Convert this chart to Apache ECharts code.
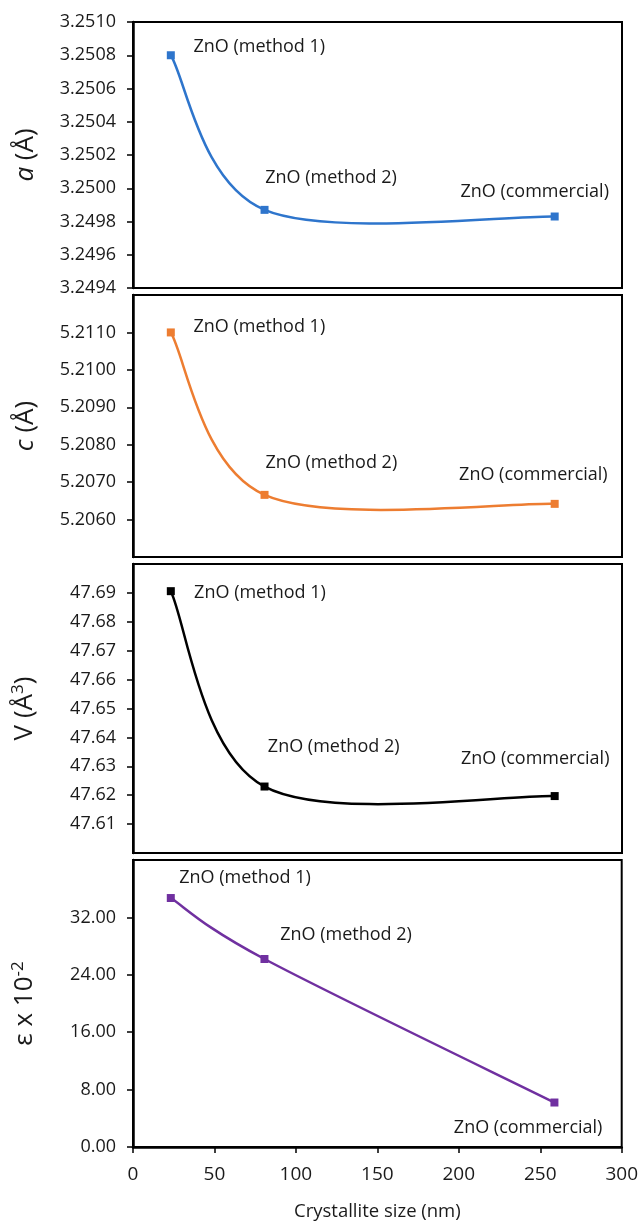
<!DOCTYPE html>
<html>
<head>
<meta charset="utf-8">
<script src="https://cdn.jsdelivr.net/npm/echarts@6/dist/echarts.min.js"></script>
<style>
  html, body { margin: 0; padding: 0; background: #fff; }
  #chart { width: 641px; height: 1222px; }
</style>
</head>
<body>
<div id="chart"></div>
<script>
// ---- data ----
const crystalliteSize = [23.2, 80.7, 258.7];
const sampleNames = ['ZnO (method 1)', 'ZnO (method 2)', 'ZnO (commercial)'];
const latticeA = [3.2508, 3.24987, 3.24983];
const latticeC = [5.2110, 5.20666, 5.20642];
const cellVolume = [47.6906, 47.6230, 47.6197];
const strain = [34.7, 26.2, 6.2];
const xTicks = [0, 300, 50];

// ---- layout / style ----
const FONT = 'Open Sans';
const TEXT = '#1a1a1a';
const panels = [
  { values: latticeA, color: '#2E75CC', top: 22, height: 266, min: 3.2494, max: 3.2510, interval: 0.0002, digits: 4,
    name: '{i|a} (Å)', showMin: true, showMax: true,
    labels: [[22.6, -8.3, 'left'], [0.7, -31.7, 'left'], [-20, -25, 'center']] },
  { values: latticeC, color: '#ED7D31', top: 295, height: 262, min: 5.2050, max: 5.2120, interval: 0.001, digits: 4,
    name: '{i|c} (Å)', showMin: false, showMax: false,
    labels: [[22.7, -5.3, 'left'], [1, -32.3, 'left'], [-21.3, -29, 'center']] },
  { values: cellVolume, color: '#000000', top: 564, height: 289, min: 47.60, max: 47.70, interval: 0.01, digits: 2,
    name: 'V (Å{sup|3})', showMin: false, showMax: false,
    labels: [[23.3, 1.6, 'left'], [3.3, -40, 'left'], [-19.5, -36.7, 'center']] },
  { values: strain, color: '#7030A0', top: 860, height: 289, min: 0, max: 40, interval: 8, digits: 2,
    name: 'ε x 10{sup|-2}', showMin: true, showMax: false,
    labels: [[8.4, -20, 'left'], [15.7, -24.3, 'left'], [-26.3, 25.3, 'center']] }
];

// Excel-style smoothed curve (cubic Bezier, tension 1/6) drawn from the data through the axes
function smoothRenderer(xs, ys, color) {
  return function (params, api) {
    const k = params.dataIndex;
    const n = xs.length;
    if (k >= n - 1) return null;
    const P = i => api.coord([xs[Math.max(0, Math.min(n - 1, i))], ys[Math.max(0, Math.min(n - 1, i))]]);
    const p0 = P(k - 1), p1 = P(k), p2 = P(k + 1), p3 = P(k + 2);
    return {
      type: 'bezierCurve',
      shape: {
        x1: p1[0], y1: p1[1], x2: p2[0], y2: p2[1],
        cpx1: p1[0] + (p2[0] - p0[0]) / 6, cpy1: p1[1] + (p2[1] - p0[1]) / 6,
        cpx2: p2[0] - (p3[0] - p1[0]) / 6, cpy2: p2[1] - (p3[1] - p1[1]) / 6
      },
      style: { stroke: color, lineWidth: 2.5, fill: null, lineCap: 'round' }
    };
  };
}

const grids = [], xAxes = [], yAxes = [], series = [];
panels.forEach((p, i) => {
  const last = i === panels.length - 1;
  grids.push({ left: 133, right: 19, top: p.top, height: p.height, show: true,
    borderColor: '#000', borderWidth: 2, backgroundColor: 'transparent' });
  xAxes.push({
    gridIndex: i, type: 'value', min: xTicks[0], max: xTicks[1], interval: xTicks[2],
    show: last,
    name: last ? 'Crystallite size (nm)' : '', nameLocation: 'middle', nameGap: 55,
    nameTextStyle: { fontFamily: FONT, fontSize: 18.5, color: TEXT },
    splitLine: { show: false },
    axisLine: { show: true, onZero: false, lineStyle: { color: '#000', width: 2.5 } },
    axisTick: { show: true, inside: false, length: 6, lineStyle: { color: '#000', width: 1.5 } },
    axisLabel: { fontFamily: FONT, fontSize: 19, color: TEXT, margin: 18 }
  });
  yAxes.push({
    gridIndex: i, type: 'value', min: p.min, max: p.max, interval: p.interval,
    name: p.name, nameLocation: 'middle', nameGap: 94, nameRotate: 90,
    nameTextStyle: { fontFamily: FONT, fontSize: 26, color: TEXT,
      rich: {
        i: { fontFamily: FONT, fontSize: 26, fontStyle: 'italic', color: TEXT },
        sup: { fontFamily: FONT, fontSize: 17, color: TEXT, verticalAlign: 'top', padding: [0, 0, 12, 0] }
      } },
    splitLine: { show: false },
    axisLine: { show: true, onZero: false, lineStyle: { color: '#000', width: 2.5 } },
    axisTick: { show: true, inside: false, length: 6, lineStyle: { color: '#000', width: 1.5 } },
    axisLabel: { fontFamily: FONT, fontSize: 18, color: TEXT, margin: 17,
      showMinLabel: p.showMin, showMaxLabel: p.showMax,
      formatter: v => Number(v).toFixed(p.digits) }
  });
  series.push({
    type: 'custom', xAxisIndex: i, yAxisIndex: i, z: 2,
    renderItem: smoothRenderer(crystalliteSize, p.values, p.color),
    encode: { x: 0, y: 1 },
    data: crystalliteSize.map((x, k) => [x, p.values[k]])
  });
  series.push({
    type: 'scatter', xAxisIndex: i, yAxisIndex: i, z: 3,
    symbol: 'rect', symbolSize: 8,
    itemStyle: { color: p.color, opacity: 1 },
    data: crystalliteSize.map((x, k) => ({
      value: [x, p.values[k]],
      label: {
        show: true, formatter: sampleNames[k], position: 'inside',
        align: p.labels[k][2], verticalAlign: 'middle',
        offset: [p.labels[k][0], p.labels[k][1]],
        fontFamily: FONT, fontSize: 18, color: TEXT, opacity: 1
      }
    }))
  });
});

const chart = echarts.init(document.getElementById('chart'), null, { renderer: 'canvas' });
chart.setOption({
  animation: false,
  backgroundColor: '#fff',
  grid: grids, xAxis: xAxes, yAxis: yAxes, series: series
});
</script>
</body>
</html>
